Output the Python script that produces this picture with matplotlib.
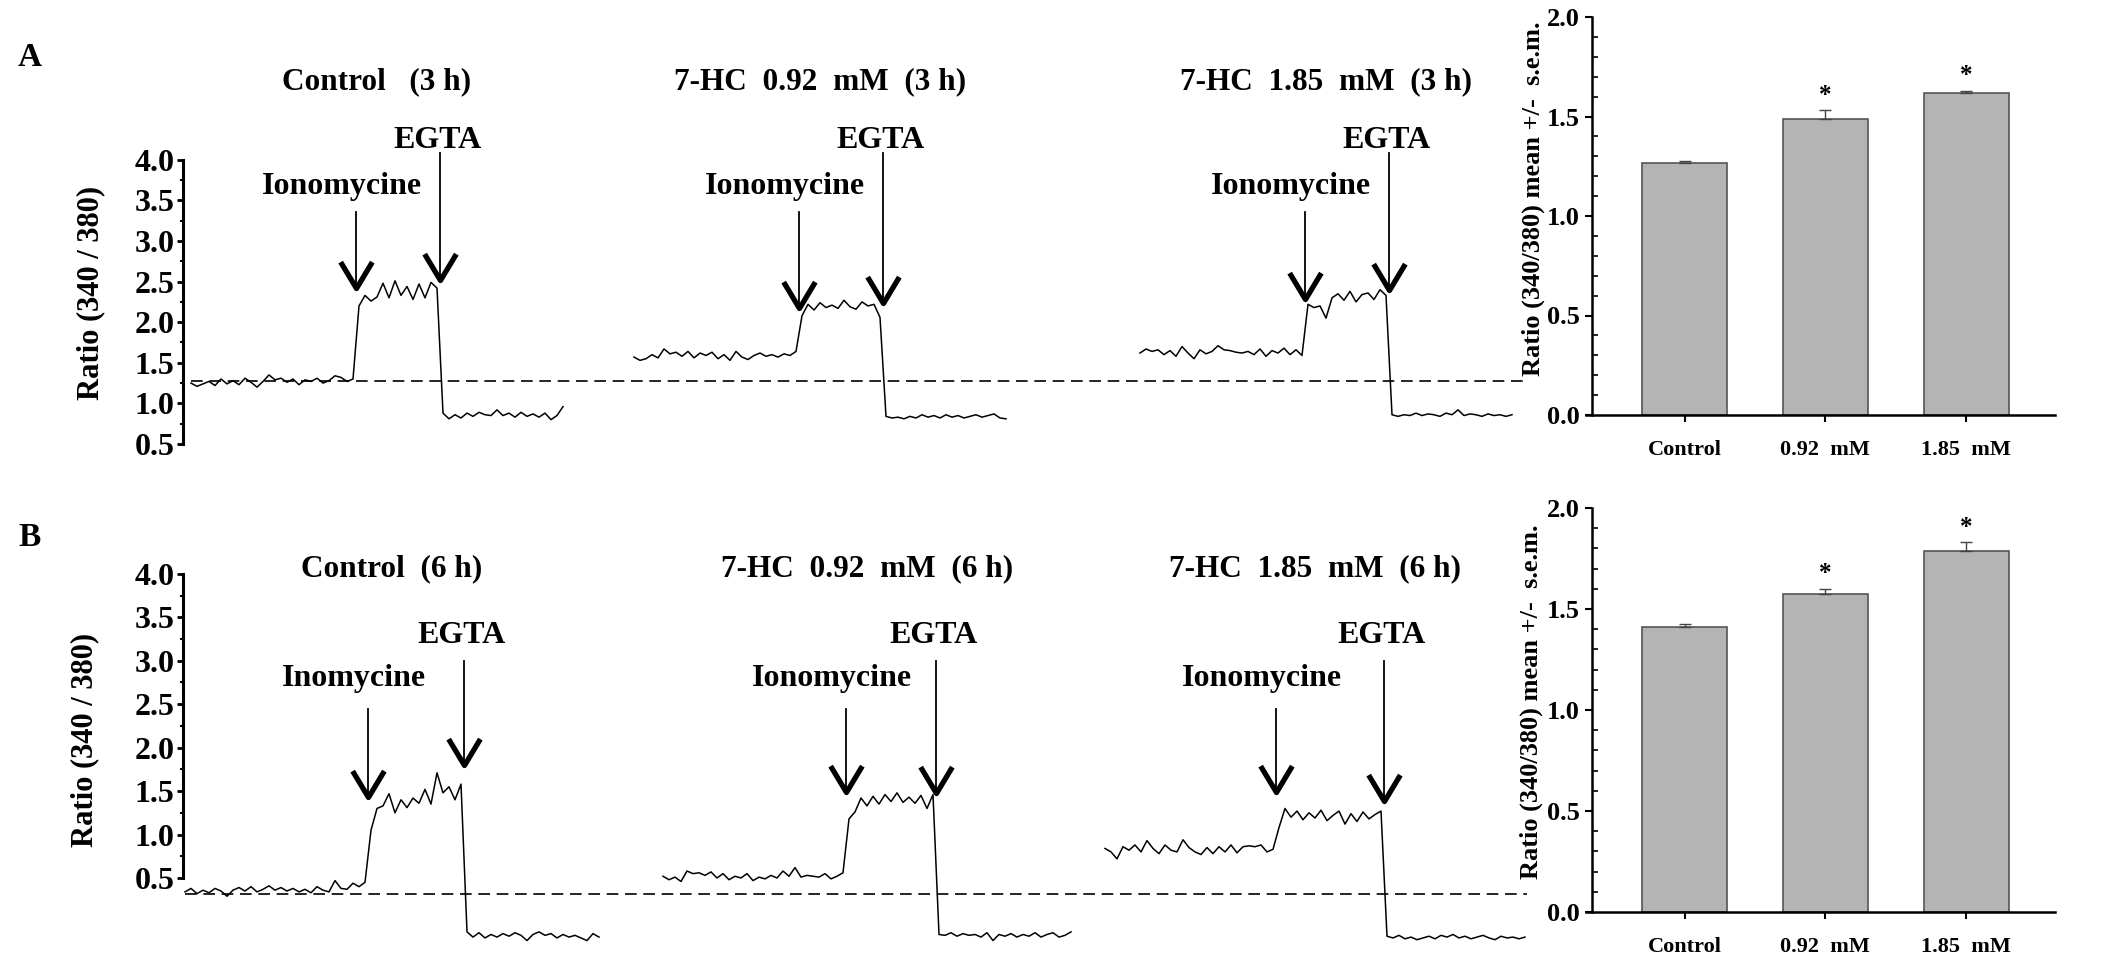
import numpy as np
import matplotlib
matplotlib.use("Agg")
import matplotlib.pyplot as plt
from matplotlib.markers import MarkerStyle
from matplotlib.ticker import FixedLocator

plt.rcParams["font.family"] = ["Liberation Serif", "DejaVu Serif"]
plt.rcParams["font.weight"] = "bold"
plt.rcParams["axes.labelweight"] = "bold"

# sampling interval of the fura-2 ratio traces (s)
dt = 6

# ---------------- panel A (3 h): baseline / ionomycine / EGTA segments
a_ctrl_t0 = 8
a_ctrl_pre = [1.25, 1.21, 1.24, 1.27, 1.22, 1.30, 1.24, 1.28, 1.23, 1.31, 1.26, 1.20, 1.27, 1.35,
              1.29, 1.31, 1.26, 1.30, 1.23, 1.29, 1.27, 1.31, 1.25, 1.28, 1.34, 1.32, 1.27, 1.30]
a_ctrl_plat = [2.20, 2.33, 2.26, 2.31, 2.48, 2.30, 2.51, 2.33, 2.44, 2.28, 2.47, 2.30, 2.49, 2.42]
a_ctrl_post = [0.88, 0.81, 0.86, 0.82, 0.88, 0.84, 0.89, 0.86, 0.85, 0.92, 0.85, 0.88, 0.83, 0.89,
               0.84, 0.87, 0.83, 0.88, 0.80, 0.85, 0.96]

a_low_t0 = 451
a_low_pre = [1.57, 1.53, 1.55, 1.60, 1.56, 1.67, 1.61, 1.63, 1.58, 1.64, 1.56, 1.62, 1.59, 1.63,
             1.55, 1.60, 1.53, 1.64, 1.57, 1.54, 1.59, 1.62, 1.58, 1.60, 1.57, 1.61, 1.59, 1.64]
a_low_plat = [2.08, 2.22, 2.15, 2.24, 2.18, 2.21, 2.17, 2.27, 2.19, 2.16, 2.25, 2.20, 2.22, 2.06]
a_low_post = [0.84, 0.82, 0.83, 0.81, 0.84, 0.82, 0.86, 0.83, 0.85, 0.82, 0.86, 0.83, 0.85, 0.82,
              0.84, 0.86, 0.83, 0.85, 0.87, 0.82, 0.81]

a_high_t0 = 957
a_high_pre = [1.62, 1.67, 1.64, 1.66, 1.60, 1.65, 1.58, 1.70, 1.62, 1.55, 1.66, 1.61, 1.64, 1.71,
              1.66, 1.65, 1.63, 1.62, 1.64, 1.60, 1.67, 1.58, 1.65, 1.62, 1.68, 1.60, 1.66, 1.59]
a_high_plat = [2.22, 2.18, 2.20, 2.05, 2.30, 2.35, 2.27, 2.38, 2.25, 2.34, 2.36, 2.28, 2.40, 2.33]
a_high_post = [0.86, 0.84, 0.86, 0.85, 0.88, 0.85, 0.87, 0.86, 0.84, 0.88, 0.86, 0.92, 0.85, 0.87,
               0.86, 0.84, 0.87, 0.85, 0.86, 0.84, 0.86]

# ---------------- panel B (6 h)
b_ctrl_t0 = 2
b_ctrl_pre = [0.34, 0.38, 0.32, 0.36, 0.33, 0.38, 0.35, 0.29, 0.36, 0.39, 0.35, 0.40, 0.34, 0.37,
              0.41, 0.36, 0.39, 0.35, 0.38, 0.34, 0.37, 0.33, 0.40, 0.36, 0.34, 0.47, 0.38, 0.37,
              0.44, 0.40, 0.45]
b_ctrl_plat = [1.05, 1.30, 1.33, 1.47, 1.25, 1.40, 1.31, 1.42, 1.36, 1.52, 1.35, 1.71, 1.48, 1.55,
               1.40, 1.58]
b_ctrl_post = [-0.12, -0.18, -0.13, -0.19, -0.15, -0.18, -0.14, -0.17, -0.13, -0.16, -0.22, -0.15,
               -0.12, -0.16, -0.14, -0.19, -0.15, -0.18, -0.16, -0.19, -0.22, -0.14, -0.18]

b_low_t0 = 480
b_low_pre = [0.52, 0.48, 0.51, 0.46, 0.58, 0.55, 0.56, 0.53, 0.57, 0.50, 0.55, 0.48, 0.52, 0.50,
             0.55, 0.47, 0.51, 0.49, 0.53, 0.50, 0.58, 0.52, 0.62, 0.51, 0.53, 0.52, 0.51, 0.55,
             0.49, 0.52, 0.56]
b_low_plat = [1.18, 1.26, 1.42, 1.33, 1.44, 1.35, 1.46, 1.38, 1.48, 1.37, 1.43, 1.36, 1.45, 1.30, 1.46]
b_low_post = [-0.15, -0.16, -0.13, -0.17, -0.14, -0.16, -0.15, -0.18, -0.13, -0.22, -0.15, -0.17,
              -0.14, -0.18, -0.15, -0.17, -0.13, -0.18, -0.15, -0.13, -0.18, -0.16, -0.12]

b_high_t0 = 922
b_high_pre = [0.84, 0.80, 0.72, 0.86, 0.82, 0.88, 0.80, 0.93, 0.84, 0.78, 0.88, 0.82, 0.80, 0.94,
              0.85, 0.80, 0.77, 0.85, 0.78, 0.86, 0.80, 0.88, 0.79, 0.86, 0.87, 0.86, 0.88, 0.80, 0.83]
b_high_plat = [1.08, 1.30, 1.20, 1.27, 1.17, 1.25, 1.19, 1.28, 1.16, 1.22, 1.27, 1.12, 1.24, 1.15,
               1.26, 1.18, 1.23, 1.27]
b_high_post = [-0.17, -0.19, -0.16, -0.20, -0.18, -0.21, -0.19, -0.17, -0.20, -0.16, -0.18, -0.15,
               -0.19, -0.17, -0.20, -0.18, -0.16, -0.19, -0.21, -0.17, -0.19, -0.18, -0.20, -0.18]

a_titles = ["Control   (3 h)", "7-HC  0.92  mM  (3 h)", "7-HC  1.85  mM  (3 h)"]
b_titles = ["Control  (6 h)", "7-HC  0.92  mM  (6 h)", "7-HC  1.85  mM  (6 h)"]
a_ion_names = ["Ionomycine", "Ionomycine", "Ionomycine"]
b_ion_names = ["Inomycine", "Ionomycine", "Ionomycine"]

# control baseline (dashed reference)
a_baseline = 1.28
b_baseline = 0.32

# arrow annotations (ratio units)
a_ion_top, a_egta_top = 3.36, 4.09
a_ion_tip = [2.42, 2.17, 2.29]
a_egta_tip = [2.52, 2.24, 2.40]
b_ion_top, b_egta_top = 2.45, 3.00
b_ion_tip = [1.43, 1.49, 1.49]
b_egta_tip = [1.80, 1.48, 1.39]

# bar charts: mean +/- s.e.m.
groups = ["Control", "0.92  mM", "1.85  mM"]
a_means = [1.266, 1.487, 1.620]
a_sem = [0.012, 0.045, 0.010]
b_means = [1.410, 1.574, 1.787]
b_sem = [0.015, 0.027, 0.045]
signif = [False, True, True]

W, H = 2126, 967
fig = plt.figure(figsize=(W / 100, H / 100), dpi=100)

head = MarkerStyle([(-0.6, 1.0), (0.0, 0.0), (0.6, 1.0)], joinstyle="miter")


def draw_traces(ax, traces, titles, ion_names, baseline, ion_top, ion_tip, egta_top, egta_tip,
                ion_text_y, egta_text_y, title_y):
    t_start = traces[0][0]
    for i, (t0, pre, plat, post) in enumerate(traces):
        y = np.concatenate([pre, plat, post])
        t = t0 + dt * np.arange(len(y))
        ax.plot(t, y, color="black", lw=1.1)
        t_ion = t0 + dt * (len(pre) - 0.5)
        t_egta = t0 + dt * (len(pre) + len(plat) - 0.5)
        for tx, top, tip in [(t_ion, ion_top, ion_tip[i]), (t_egta, egta_top, egta_tip[i])]:
            ax.plot([tx, tx], [top, tip], color="black", lw=1.3)
            ax.plot([tx], [tip], marker=head, ms=38, mfc="none", mec="black", mew=3.8)
        ax.text(t_ion - 14, ion_text_y, ion_names[i], ha="center", va="center", fontsize=23)
        ax.text(t_egta - 2, egta_text_y, "EGTA", ha="center", va="center", fontsize=23)
        ax.text((t[0] + t[-1]) / 2, title_y, titles[i], ha="center", va="center", fontsize=22.5)
    ax.hlines(baseline, t_start, 1344, colors="black", lw=1.2, linestyles=(0, (7, 4)))

    ax.set_xlim(0, 1347)
    for s in ["top", "right", "bottom"]:
        ax.spines[s].set_visible(False)
    ax.spines["left"].set_bounds(0.5, 4.0)
    ax.spines["left"].set_linewidth(2.2)
    ax.set_xticks([])
    ticks = np.arange(0.5, 4.01, 0.5)
    ax.set_yticks(ticks)
    ax.set_yticklabels([f"{v:.1f}" for v in ticks])
    ax.yaxis.set_minor_locator(FixedLocator(np.arange(0.75, 4.0, 0.5)))
    ax.tick_params(axis="y", which="major", length=4, width=2, labelsize=23, pad=2)
    ax.tick_params(axis="y", which="minor", length=2.5, width=1.5)
    ax.set_ylabel("Ratio (340 / 380)", fontsize=22)


def draw_bars(ax, means, sems):
    pos = np.arange(1, len(means) + 1)
    ax.bar(pos, means, width=0.6, color="#b4b4b4", edgecolor="#555555", lw=1.2,
           yerr=[np.zeros(len(sems)), sems], capsize=4,
           error_kw=dict(elinewidth=1.0, capthick=1.0, ecolor="#444444"), zorder=2)
    for p, m, e, s in zip(pos, means, sems, signif):
        if s:
            ax.annotate("*", xy=(p, m + e), xytext=(0, 6), textcoords="offset points",
                        ha="center", va="baseline", fontsize=18)
    ax.set_xlim(0.30, 3.63)
    ax.set_ylim(0, 2.0)
    for s in ["top", "right"]:
        ax.spines[s].set_visible(False)
    ax.spines["left"].set_position(("data", 0.343))
    ax.spines["left"].set_linewidth(1.8)
    ax.spines["bottom"].set_linewidth(1.8)
    ax.set_xticks(pos)
    ax.set_xticklabels(groups, fontsize=16)
    ax.set_yticks([0, 0.5, 1.0, 1.5, 2.0])
    ax.set_yticklabels(["0.0", "0.5", "1.0", "1.5", "2.0"], fontsize=19)
    ax.yaxis.set_minor_locator(FixedLocator(np.arange(0.1, 2.0, 0.1)))
    ax.tick_params(axis="x", direction="out", length=5, width=1.5, pad=13)
    ax.tick_params(axis="y", which="major", direction="out", length=5, width=1.5, pad=4)
    ax.tick_params(axis="y", which="minor", direction="in", length=4, width=1.2)
    ax.set_ylabel("Ratio (340/380) mean +/-  s.e.m.", fontsize=19)


# trace axes: one per row, all traces on a common ratio scale
ax_a = fig.add_axes([183 / W, 1 - 460.2 / H, 1347 / W, 397.8 / H])
ax_a.set_ylim(0.3, 5.2)
draw_traces(ax_a,
            [(a_ctrl_t0, a_ctrl_pre, a_ctrl_plat, a_ctrl_post),
             (a_low_t0, a_low_pre, a_low_plat, a_low_post),
             (a_high_t0, a_high_pre, a_high_plat, a_high_post)],
            a_titles, a_ion_names, a_baseline, a_ion_top, a_ion_tip, a_egta_top, a_egta_tip,
            3.67, 4.24, 4.96)
ax_a.yaxis.set_label_coords(-0.058, 0.42)

ax_b = fig.add_axes([183 / W, 1 - 956.2 / H, 1347 / W, 434.5 / H])
ax_b.set_ylim(-0.4, 4.6)
draw_traces(ax_b,
            [(b_ctrl_t0, b_ctrl_pre, b_ctrl_plat, b_ctrl_post),
             (b_low_t0, b_low_pre, b_low_plat, b_low_post),
             (b_high_t0, b_high_pre, b_high_plat, b_high_post)],
            b_titles, b_ion_names, b_baseline, b_ion_top, b_ion_tip, b_egta_top, b_egta_tip,
            2.80, 3.29, 4.06)
ax_b.yaxis.set_label_coords(-0.062, 0.497)

# bar charts
bar_a = fig.add_axes([1586 / W, 1 - 415 / H, 469 / W, 398 / H])
draw_bars(bar_a, a_means, a_sem)
bar_a.yaxis.set_label_coords(-0.087, 0.543)

bar_b = fig.add_axes([1586 / W, 1 - 912 / H, 469 / W, 404 / H])
draw_bars(bar_b, b_means, b_sem)
bar_b.yaxis.set_label_coords(-0.092, 0.52)

fig.text(30 / W, 1 - 57 / H, "A", fontsize=24, ha="center", va="center")
fig.text(30 / W, 1 - 538 / H, "B", fontsize=24, ha="center", va="center")

fig.savefig("out.png", dpi=100)
